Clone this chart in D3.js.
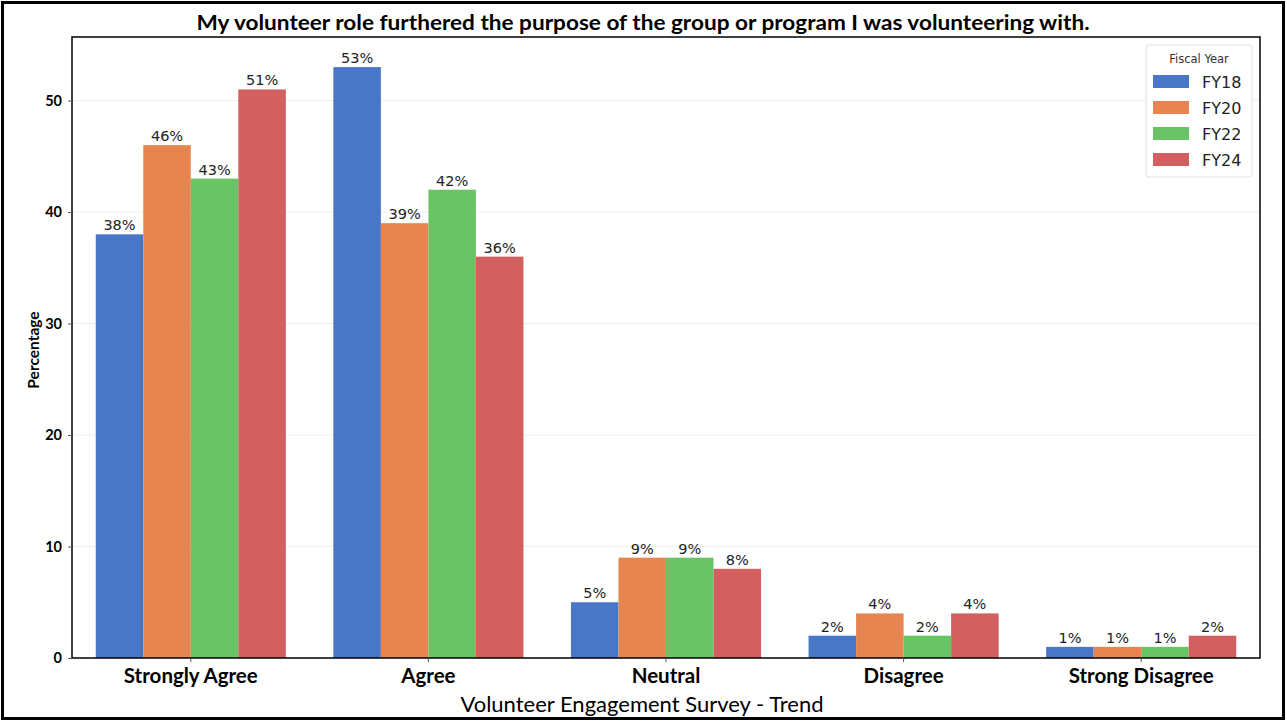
<!DOCTYPE html>
<html><head><meta charset="utf-8">
<script src="https://cdn.jsdelivr.net/npm/d3@7"></script>
<style>body{margin:0;background:#fff}svg{display:block}</style>
</head><body>
<svg id="c" width="1287" height="722"></svg>
<script>
const categories = ["Strongly Agree","Agree","Neutral","Disagree","Strong Disagree"];
const years = ["FY18","FY20","FY22","FY24"];
const FY18 = [38,53,5,2,1];
const FY20 = [46,39,9,4,1];
const FY22 = [43,42,9,2,1];
const FY24 = [51,36,8,4,2];
const yTicks = [0,10,20,30,40,50];
const colors = ["#4a76c8","#e6854f","#6ac465","#d26061"];
const seriesVals = [FY18,FY20,FY22,FY24];

const svg = d3.select("#c");
const m = {l:72, r:1260, t:37, b:658};
svg.append("rect").attr("x",2.5).attr("y",2.5).attr("width",1281).attr("height",716)
  .attr("fill","#fff").attr("stroke","#000").attr("stroke-width",3);

const x = d3.scaleBand().domain(categories).range([m.l,m.r]).paddingInner(0).paddingOuter(0);
const y = d3.scaleLinear().domain([0,55.7]).range([m.b,m.t]);
const xs = d3.scaleBand().domain(years).range([0,x.bandwidth()*0.8]);

// grid
svg.append("g").selectAll("line").data(yTicks.slice(1)).join("line")
  .attr("x1",m.l).attr("x2",m.r).attr("y1",d=>y(d)).attr("y2",d=>y(d))
  .attr("stroke","#efefef").attr("stroke-width",1);

// bars
const g = svg.append("g");
years.forEach((yr,i)=>{
  const data = categories.map((c,j)=>({c, v:seriesVals[i][j]}));
  g.selectAll(null).data(data).join("rect")
    .attr("x",d=>x(d.c)+x.bandwidth()*0.1+xs(yr))
    .attr("y",d=>y(d.v)).attr("width",xs.bandwidth()).attr("height",d=>y(0)-y(d.v))
    .attr("fill",colors[i]);
  g.selectAll(null).data(data).join("text")
    .attr("x",d=>x(d.c)+x.bandwidth()*0.1+xs(yr)+xs.bandwidth()/2)
    .attr("y",d=>y(d.v)-4).attr("text-anchor","middle")
    .attr("font-family","DejaVu Sans").attr("font-size",14.5).attr("fill","#222")
    .text(d=>d.v+"%");
});

// frame
svg.append("rect").attr("x",m.l).attr("y",m.t).attr("width",m.r-m.l).attr("height",m.b-m.t)
  .attr("fill","none").attr("stroke","#000").attr("stroke-width",1.5);

// y axis
const ya = svg.append("g").attr("transform",`translate(${m.l},0)`)
  .call(d3.axisLeft(y).tickValues(yTicks).tickSize(4).tickPadding(6));
ya.select(".domain").remove();
ya.selectAll("text").attr("font-family","Lato").attr("font-weight","bold").attr("font-size",14.5).attr("fill","#000");
ya.selectAll("line").attr("stroke","#555");

// x axis
const xa = svg.append("g").attr("transform",`translate(0,${m.b})`)
  .call(d3.axisBottom(x).tickSize(4).tickPadding(6));
xa.select(".domain").remove();
xa.selectAll("text").attr("font-family","Lato").attr("font-weight","bold").attr("font-size",20.5).attr("fill","#000");
xa.selectAll("line").attr("stroke","#555");

// titles
svg.append("text").attr("x",643).attr("y",30).attr("text-anchor","middle")
  .attr("font-family","Lato").attr("font-weight","bold").attr("font-size",21).attr("fill","#000")
  .attr("textLength",893).attr("lengthAdjust","spacingAndGlyphs")
  .text("My volunteer role furthered the purpose of the group or program I was volunteering with.");
svg.append("text").attr("x",642).attr("y",712).attr("text-anchor","middle")
  .attr("font-family","Lato").attr("font-size",22).attr("fill","#000")
  .text("Volunteer Engagement Survey - Trend");
svg.append("text").attr("transform","translate(39,350) rotate(-90)").attr("text-anchor","middle")
  .attr("font-family","Lato").attr("font-weight","bold").attr("font-size",15.5).attr("fill","#000")
  .text("Percentage");

// legend
const lg = svg.append("g").attr("transform","translate(1146,45)");
lg.append("rect").attr("width",106).attr("height",132).attr("rx",3)
  .attr("fill","#fff").attr("stroke","#e0e0e0");
lg.append("text").attr("x",53).attr("y",18).attr("text-anchor","middle")
  .attr("font-family","DejaVu Sans").attr("font-size",11.5).attr("fill","#333").text("Fiscal Year");
years.forEach((yr,i)=>{
  lg.append("rect").attr("x",7).attr("y",30+i*26).attr("width",36).attr("height",13).attr("fill",colors[i]);
  lg.append("text").attr("x",56).attr("y",43+i*26)
    .attr("font-family","DejaVu Sans").attr("font-size",16).attr("fill","#222").text(yr);
});
</script>
</body></html>
